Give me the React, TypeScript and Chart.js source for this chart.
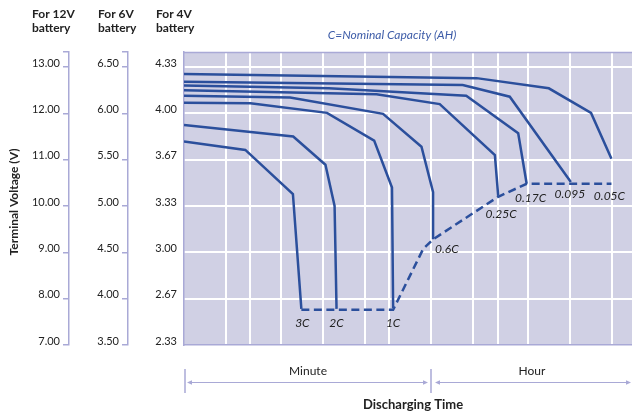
import React, { useEffect, useRef } from 'react';
import { Chart, registerables } from 'chart.js';

Chart.register(...registerables);

// ---- data (time in minutes, voltage in 12V-battery units) ----
const curveNames = ['3C', '2C', '1C', '0.6C', '0.25C', '0.17C', '0.095', '0.05C'];
const t3C = [1, 2.76, 6.07, 6.98];
const v3C = [11.39, 11.21, 10.26, 7.78];
const t2C = [1, 6.1, 10.4, 12.1, 12.5];
const v2C = [11.75, 11.5, 10.89, 10.0, 7.78];
const t1C = [1, 3.0, 10.67, 23.3, 31.3, 31.9];
const v1C = [12.23, 12.22, 12.01, 11.41, 10.4, 7.8];
const t06C = [1, 5.8, 27, 51, 61.8, 61.8];
const v06C = [12.38, 12.34, 11.99, 11.28, 10.3, 9.28];
const t025C = [1, 24.2, 69, 172, 181.6];
const v025C = [12.5, 12.41, 12.2, 11.1, 10.22];
const t017C = [1, 11, 107, 253, 291];
const v017C = [12.6, 12.54, 12.38, 11.57, 10.48];
const t0095 = [1, 101, 220, 605];
const v0095 = [12.68, 12.61, 12.36, 10.52];
const t005C = [1, 127, 420, 845, 1185];
const v005C = [12.85, 12.76, 12.54, 12.01, 11.02];
const tCutoff = [6.98, 31.9, 52.4, 61.8, 181.6, 291, 1185];
const vCutoff = [7.76, 7.76, 9.07, 9.28, 10.2, 10.48, 10.48];

const voltTicks = [7, 8, 9, 10, 11, 12, 13];
const timeTicks = [2, 3, 5, 10, 20, 30, 60, 120, 180, 300, 600, 1200];
const yMin = 7;
const yMax = 13.324;
const xMin = 1;
const xMax = 1665;

// ---- styling ----
const LAV_BG = '#d0d0e4';
const LAV_LINE = '#a9a9d6';
const BLUE = '#2b4f9c';
const INK = '#222222';
const FONT = 'Lato, "Open Sans", sans-serif';

// label offsets relative to curve end point (layout)
const labelOffsets: [number, number, string][] = [
  [1, 14, 'center'],
  [0, 14, 'center'],
  [0, 15, 'center'],
  [2, 10, 'left'],
  [3, 18, 'center'],
  [4, 14.5, 'center'],
  [-1, 12, 'center'],
  [-2, 37, 'center'],
];

const curveT = [t3C, t2C, t1C, t06C, t025C, t017C, t0095, t005C];
const curveV = [v3C, v2C, v1C, v06C, v025C, v017C, v0095, v005C];

const decor = {
  id: 'decor',
  beforeDraw(chart: any) {
    const { ctx, chartArea: a } = chart;
    ctx.save();
    ctx.fillStyle = LAV_BG;
    ctx.fillRect(a.left, a.top, a.right - a.left, a.bottom - a.top);
    ctx.restore();
  },
  afterDatasetsDraw(chart: any) {
    const { ctx } = chart;
    ctx.save();
    ctx.font = `italic 12px ${FONT}`;
    ctx.fillStyle = INK;
    ctx.textBaseline = 'middle';
    curveNames.forEach((name, i) => {
      const meta = chart.getDatasetMeta(i);
      const pt = meta.data[meta.data.length - 1];
      const [dx, dy, align] = labelOffsets[i];
      ctx.textAlign = align;
      ctx.fillText(name, pt.x + dx, pt.y + dy);
    });
    ctx.restore();
  },
  afterDraw(chart: any) {
    const { ctx, chartArea: a } = chart;
    ctx.save();
    // top border
    ctx.strokeStyle = LAV_LINE;
    ctx.lineWidth = 1.5;
    ctx.beginPath();
    ctx.moveTo(a.left, a.top + 0.5);
    ctx.lineTo(a.right, a.top + 0.5);
    ctx.stroke();

    // headers
    ctx.fillStyle = INK;
    ctx.font = `bold 12px ${FONT}`;
    ctx.textAlign = 'left';
    ctx.textBaseline = 'middle';
    const heads: [string, number][] = [['For 12V', 32], ['For 6V', 98], ['For 4V', 156]];
    heads.forEach(([h, x]) => {
      ctx.fillText(h, x, 14);
      ctx.fillText('battery', x, 28);
    });

    // subtitle
    ctx.font = `italic 12px ${FONT}`;
    ctx.fillStyle = '#3d5ca8';
    ctx.textAlign = 'center';
    ctx.fillText('C=Nominal Capacity (AH)', 392, 35);

    // y title
    ctx.save();
    ctx.translate(14, 202);
    ctx.rotate(-Math.PI / 2);
    ctx.font = `bold 12px ${FONT}`;
    ctx.fillStyle = INK;
    ctx.textAlign = 'center';
    ctx.fillText('Terminal Voltage (V)', 0, 0);
    ctx.restore();

    // bottom range markers
    const ay = 382.5;
    ctx.strokeStyle = LAV_LINE;
    ctx.fillStyle = LAV_LINE;
    ctx.lineWidth = 1.5;
    [185, 431].forEach((x) => {
      ctx.beginPath();
      ctx.moveTo(x, 369);
      ctx.lineTo(x, 393);
      ctx.stroke();
    });
    const arrow = (x1: number, x2: number) => {
      ctx.lineWidth = 1;
      ctx.beginPath();
      ctx.moveTo(x1, ay);
      ctx.lineTo(x2, ay);
      ctx.stroke();
      ctx.beginPath();
      ctx.moveTo(x1 - 1, ay);
      ctx.lineTo(x1 + 4, ay - 2.2);
      ctx.lineTo(x1 + 4, ay + 2.2);
      ctx.closePath();
      ctx.fill();
      ctx.beginPath();
      ctx.moveTo(x2 + 1, ay);
      ctx.lineTo(x2 - 4, ay - 2.2);
      ctx.lineTo(x2 - 4, ay + 2.2);
      ctx.closePath();
      ctx.fill();
    };
    arrow(188, 427);
    arrow(436, 630);

    ctx.fillStyle = INK;
    ctx.font = `12px ${FONT}`;
    ctx.textAlign = 'center';
    ctx.fillText('Minute', 308, 371.5);
    ctx.fillText('Hour', 532, 371.5);
    ctx.font = `bold 13px ${FONT}`;
    ctx.fillText('Discharging Time', 413, 405);
    ctx.restore();
  },
};

export default function App() {
  const ref = useRef<HTMLCanvasElement>(null);

  useEffect(() => {
    const datasets: any[] = curveNames.map((name, i) => ({
      label: name,
      data: curveT[i].map((t, j) => ({ x: t, y: curveV[i][j] })),
      borderColor: BLUE,
      borderWidth: 2.5,
      pointRadius: 0,
      fill: false,
      tension: 0,
    }));
    datasets.push({
      label: 'cutoff',
      data: tCutoff.map((t, j) => ({ x: t, y: vCutoff[j] })),
      borderColor: BLUE,
      borderWidth: 2.5,
      borderDash: [8, 4.5],
      pointRadius: 0,
      fill: false,
      tension: 0,
    });

    const tickFont = { family: FONT, size: 11 };

    const chart = new Chart(ref.current!, {
      type: 'line',
      data: { datasets },
      plugins: [decor],
      options: {
        animation: false,
        responsive: false,
        devicePixelRatio: 1,
        layout: { padding: { left: 0, right: 0, top: 52, bottom: 69 } },
        plugins: { legend: { display: false }, tooltip: { enabled: false } },
        scales: {
          x: {
            type: 'logarithmic',
            min: xMin,
            max: xMax,
            afterBuildTicks: (s: any) => {
              s.ticks = timeTicks.map((v) => ({ value: v }));
            },
            afterFit: (s: any) => {
              s.height = 0;
            },
            ticks: { display: false },
            grid: { color: '#ffffff', lineWidth: 2, drawTicks: false },
            border: { display: true, color: LAV_LINE, width: 1.5 },
          },
          y: {
            type: 'linear',
            position: 'left',
            weight: 0,
            min: yMin,
            max: yMax,
            afterBuildTicks: (s: any) => {
              s.ticks = voltTicks.map((v) => ({ value: v }));
            },
            afterFit: (s: any) => {
              s.width = 56;
            },
            ticks: {
              autoSkip: false,
              font: tickFont,
              color: INK,
              padding: 7,
              labelOffset: -4,
              callback: (v: any) => (Number(v) / 3).toFixed(2),
            },
            grid: {
              drawTicks: false,
              lineWidth: 2,
              color: (c: any) => (c.tick && c.tick.value === yMin ? 'rgba(0,0,0,0)' : '#ffffff'),
            },
            border: { display: true, color: LAV_LINE, width: 1.5 },
          },
          y6: {
            type: 'linear',
            position: 'left',
            weight: 1,
            min: yMin,
            max: yMax,
            afterBuildTicks: (s: any) => {
              s.ticks = [...voltTicks, yMax].map((v) => ({ value: v }));
            },
            afterFit: (s: any) => {
              s.width = 59;
            },
            ticks: {
              autoSkip: false,
              font: tickFont,
              color: INK,
              padding: 3,
              labelOffset: -4,
              callback: (v: any, i: number) => (i === voltTicks.length ? '' : (Number(v) / 2).toFixed(2)),
            },
            grid: { drawOnChartArea: false, drawTicks: true, tickLength: 6, color: LAV_LINE, lineWidth: 1.5 },
            border: { display: true, color: LAV_LINE, width: 1.5 },
          },
          y12: {
            type: 'linear',
            position: 'left',
            weight: 2,
            min: yMin,
            max: yMax,
            afterBuildTicks: (s: any) => {
              s.ticks = [...voltTicks, yMax].map((v) => ({ value: v }));
            },
            afterFit: (s: any) => {
              s.width = 69;
            },
            ticks: {
              autoSkip: false,
              font: tickFont,
              color: INK,
              padding: 3,
              labelOffset: -4,
              callback: (v: any, i: number) => (i === voltTicks.length ? '' : Number(v).toFixed(2)),
            },
            grid: { drawOnChartArea: false, drawTicks: true, tickLength: 6, color: LAV_LINE, lineWidth: 1.5 },
            border: { display: true, color: LAV_LINE, width: 1.5 },
          },
        },
      } as any,
    });
    return () => chart.destroy();
  }, []);

  return (
    <div style={{ position: 'fixed', left: 0, top: 0, width: 632, height: 414, background: '#ffffff' }}>
      <canvas ref={ref} width={632} height={414} style={{ display: 'block', width: 632, height: 414 }} />
    </div>
  );
}
